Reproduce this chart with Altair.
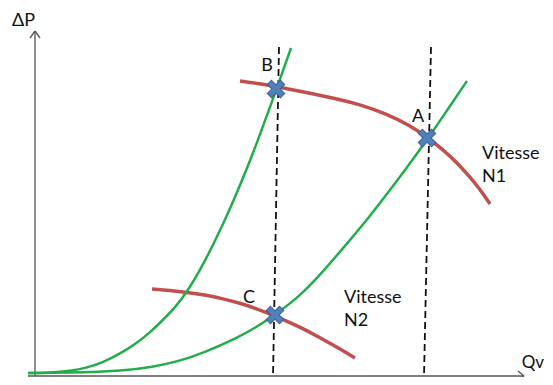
import altair as alt
import pandas as pd

# ---- data (Qv horizontal, dP vertical, arbitrary units) ----
green_steep_q = [-7, 15, 35, 52, 68, 85, 102, 115, 128, 140, 152, 165, 180, 195, 210, 225, 241, 256]
green_steep_p = [3, 3.3, 4.9, 8.3, 13.7, 22.2, 33.2, 43.6, 56, 68.4, 84, 105.5, 134.8, 167, 202.3, 241.3, 285.3, 328]

green_flat_q = [-7, 52, 85, 118, 145, 168, 202, 220, 240, 265, 285, 310, 335, 355, 368, 392, 415, 432]
green_flat_p = [3, 3.5, 5, 9, 15, 23, 38, 48, 61, 80, 101, 130, 160, 186, 203, 236, 270, 295]

red_n1_q = [205, 225, 242, 265, 302, 325, 352, 375, 392, 410, 422, 435, 445, 455]
red_n1_p = [295, 292.2, 289.3, 284.7, 277.3, 271.5, 262, 250.5, 239, 224.6, 213.2, 199, 186.5, 172]

red_n2_q = [117, 135, 152, 170, 185, 205, 218, 240, 265, 285, 305, 320]
red_n2_p = [87, 85.6, 83.7, 81, 78, 72.8, 68.6, 60.2, 49, 38.4, 27, 18]

point_names = ["B", "A", "C"]
point_q = [241, 392, 240]
point_p = [287, 238, 61]

dash_q = [244, 396]
dash_p_top = [329, 329]
dash_q_bottom = [238, 389]
dash_p_bottom = [-1, -1]

# axes segments (x, y, x2, y2)
axis_x1 = [0, -5, 5, -7, 483, 483]
axis_y1 = [0, 338, 338, 0, 5, -5]
axis_x2 = [0, 0, 0, 489, 489, 489]
axis_y2 = [345, 345, 345, 0, 0, 0]

label_text = ["B", "A", "C", "Vitesse", "N1", "Vitesse", "N2", "ΔP"]
label_q = [232, 383, 214, 447, 447, 309, 309, -23]
label_p = [310, 259, 78, 222, 199, 78, 55, 355]
label_align = ["center", "center", "center", "left", "left", "left", "left", "left"]

axis_label_text = ["Qv"]
axis_label_q = [509]
axis_label_p = [13]

# ---- scales ----
xs = alt.Scale(domain=[-27, 510], nice=False, zero=False)
ys = alt.Scale(domain=[-1, 368], nice=False, zero=False)
X = lambda f: alt.X(f, type="quantitative", scale=xs, axis=None)
Y = lambda f: alt.Y(f, type="quantitative", scale=ys, axis=None)

curves = []
for name, qs, ps in [("gs", green_steep_q, green_steep_p), ("gf", green_flat_q, green_flat_p),
                     ("r1", red_n1_q, red_n1_p), ("r2", red_n2_q, red_n2_p)]:
    for i, (q, p) in enumerate(zip(qs, ps)):
        curves.append({"curve": name, "i": i, "q": q, "p": p})
curves = pd.DataFrame(curves)

axes_df = pd.DataFrame({"x": axis_x1, "y": axis_y1, "x2": axis_x2, "y2": axis_y2})
dash_df = pd.DataFrame({"x": dash_q, "y": dash_p_top, "x2": dash_q_bottom, "y2": dash_p_bottom})
pts_df = pd.DataFrame({"name": point_names, "q": point_q, "p": point_p})
lab_df = pd.DataFrame({"t": label_text, "q": label_q, "p": label_p, "a": label_align})
axlab_df = pd.DataFrame({"t": axis_label_text, "q": axis_label_q, "p": axis_label_p})

axes_layer = alt.Chart(axes_df).mark_rule(color="#555555", strokeWidth=1.3).encode(
    x=X("x"), y=Y("y"), x2="x2", y2="y2")

dash_layer = alt.Chart(dash_df).mark_rule(color="#111111", strokeWidth=1.8, strokeDash=[7, 4]).encode(
    x=X("x"), y=Y("y"), x2="x2", y2="y2")

red_layer = alt.Chart(curves[curves.curve.str.startswith("r")]).mark_line(
    color="#c0504d", strokeWidth=3.5, interpolate="basis").encode(
    x=X("q"), y=Y("p"), detail="curve:N", order="i:Q")

green_layer = alt.Chart(curves[curves.curve.str.startswith("g")]).mark_line(
    color="#22ad4b", strokeWidth=2.5, interpolate="basis").encode(
    x=X("q"), y=Y("p"), detail="curve:N", order="i:Q")

xpath = "M-1,-0.32H-0.32V-1H0.32V-0.32H1V0.32H0.32V1H-0.32V0.32H-1Z"
pts_layer = alt.Chart(pts_df).mark_point(
    shape=xpath, filled=True, fill="#4f81bd", stroke="#385d8a", strokeWidth=1,
    size=350, angle=45, opacity=1).encode(x=X("q"), y=Y("p"))

text_left = alt.Chart(lab_df[lab_df.a == "left"]).mark_text(
    align="left", baseline="middle", font="Lato", fontSize=18, color="#111111").encode(
    x=X("q"), y=Y("p"), text="t:N")
text_center = alt.Chart(lab_df[lab_df.a == "center"]).mark_text(
    align="center", baseline="middle", font="Lato", fontSize=18, color="#111111").encode(
    x=X("q"), y=Y("p"), text="t:N")
text_qv = alt.Chart(axlab_df).mark_text(
    align="right", baseline="middle", font="Lato", fontSize=17, color="#111111").encode(
    x=X("q"), y=Y("p"), text="t:N")

chart = alt.layer(axes_layer, dash_layer, red_layer, green_layer, pts_layer,
                  text_left, text_center, text_qv).properties(
    width=537, height=369, padding=0, autosize="none", background="white"
).configure_view(stroke=None)

chart.save("out.html", embed_options={"renderer": "svg", "actions": False})
